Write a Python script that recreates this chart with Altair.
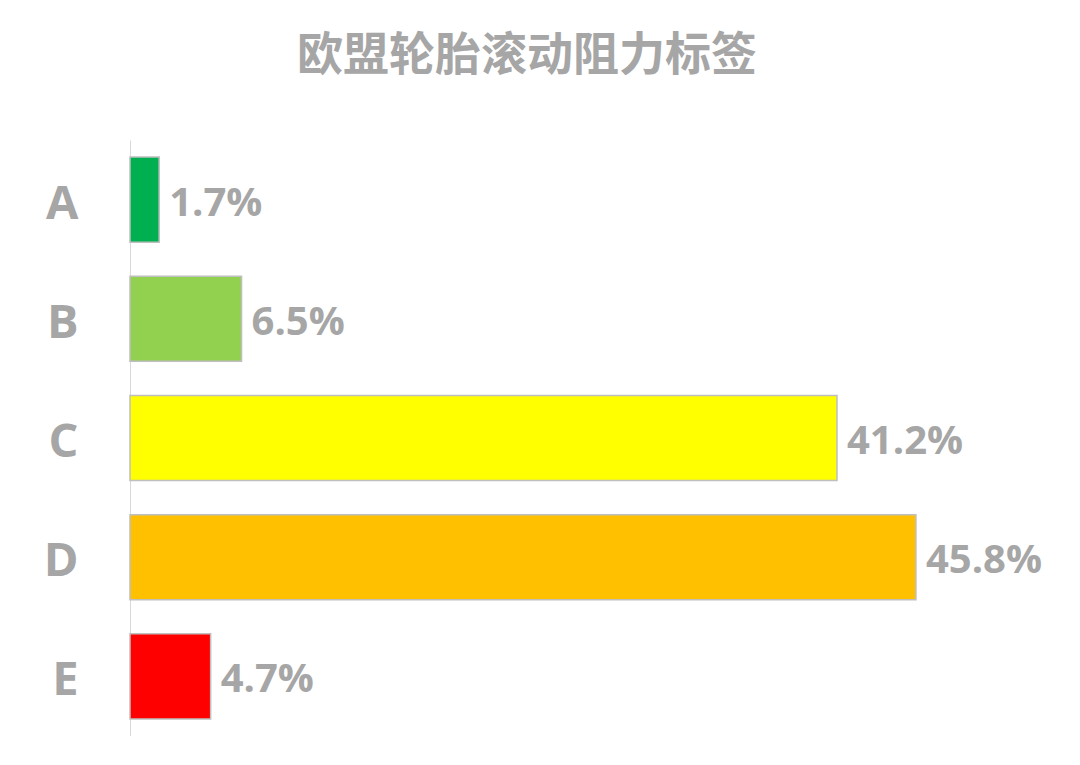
import altair as alt
import pandas as pd

grades = ["A", "B", "C", "D", "E"]
shares = [1.7, 6.5, 41.2, 45.8, 4.7]
labels = ["1.7%", "6.5%", "41.2%", "45.8%", "4.7%"]
colors = ["#00B050", "#92D050", "#FFFF00", "#FFC000", "#FF0000"]

df = pd.DataFrame({"grade": grades, "share": shares, "label": labels, "color": colors})

gray = "#a6a6a6"

y_enc = alt.Y(
    "grade:N",
    sort=grades,
    scale=alt.Scale(paddingInner=0.286, paddingOuter=0.143),
    axis=alt.Axis(
        title=None,
        ticks=False,
        grid=False,
        domainColor="#d9d9d9",
        domainWidth=1,
        labelFontSize=47,
        labelFont="Open Sans",
        labelFontWeight="bold",
        labelColor=gray,
        labelPadding=52,
        labelOffset=5,
    ),
)
x_enc = alt.X("share:Q", scale=alt.Scale(domain=[0, 50]), axis=None)

bars = alt.Chart(df).mark_bar(stroke="#bfbfbf", strokeWidth=1.5).encode(
    y=y_enc,
    x=x_enc,
    color=alt.Color("color:N", scale=None),
)

text = alt.Chart(df).mark_text(
    align="left",
    baseline="middle",
    dx=10,
    dy=4,
    fontSize=40,
    font="Open Sans",
    fontWeight="bold",
    color=gray,
).encode(y=y_enc, x=x_enc, text="label:N")

chart = (
    alt.layer(bars, text)
    .properties(
        width=858,
        height=596,
        autosize=alt.AutoSizeParams(type="none"),
        padding={"left": 122, "top": 132, "right": 76, "bottom": 0},
        title=alt.TitleParams(
            "欧盟轮胎滚动阻力标签",
            font="Noto Sans CJK SC",
            fontSize=46,
            fontWeight="bold",
            color=gray,
            anchor="middle",
            dx=-32,
            offset=60,
        ),
    )
    .configure_view(stroke=None)
)

chart.save("out.html", embed_options={"renderer": "svg", "actions": False})
